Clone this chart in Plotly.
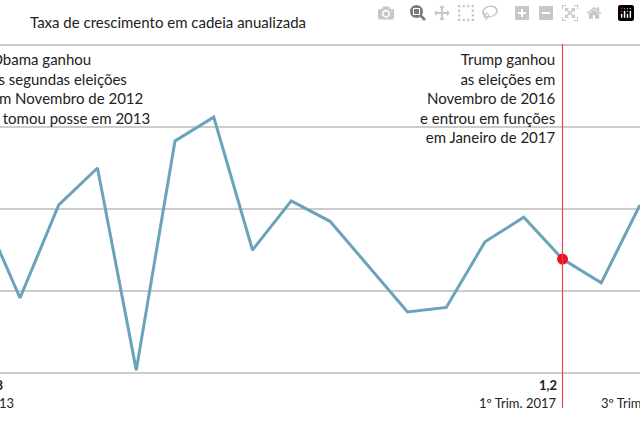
import plotly.graph_objects as go

# quarter index and growth (annualised, chart units)
quarters = list(range(-1, 17))
growth = [4.0, 1.83, 4.1, 5.0, 0.07, 5.66, 6.24, 3.0, 4.2, 3.7, 2.6, 1.49, 1.6, 3.2, 3.8, 2.78, 2.2, 4.1]
grid_vals = [0, 2, 4, 6, 8]
event_q = 14

W, H = 640, 426
FONT = 'Lato'

fig = go.Figure()
fig.add_trace(go.Scatter(x=quarters, y=growth, mode='lines',
                         line=dict(color='#6aa3ba', width=3), hoverinfo='skip'))
fig.add_shape(type='line', x0=event_q, x1=event_q, yref='paper', y0=(426 - 408) / 426, y1=(426 - 44) / 426,
              line=dict(color='#e8474c', width=1.2))
fig.add_trace(go.Scatter(x=[event_q], y=[growth[event_q + 1]], mode='markers',
                         marker=dict(color='#e8141b', size=11), hoverinfo='skip'))


def ann(px, py, text, anchor, size=15, bold=False):
    fig.add_annotation(x=px / W, y=1 - py / H, xref='paper', yref='paper', text=f'<b>{text}</b>' if bold else text,
                       xanchor=anchor, yanchor='middle', showarrow=False, align=anchor,
                       font=dict(family=FONT, size=size, color='#222'))


ann(308, 22, 'Taxa de crescimento em cadeia anualizada', 'right')
ann(-11, 88, 'Obama ganhou<br>as segundas eleições<br>em Novembro de 2012<br>e tomou posse em 2013', 'left')
ann(558, 98, 'Trump ganhou<br>as eleições em<br>Novembro de 2016<br>e entrou em funções<br>em Janeiro de 2017', 'right')
ann(559, 385, '1,2', 'right', 13, True)
ann(559, 403, '1º Trim. 2017', 'right', 13)
ann(599, 403, '3º Trim. 2017', 'left', 13)
ann(6, 385, '1,8', 'right', 13, True)
ann(16, 403, '1º Trim. 2013', 'right', 13)

fig.update_layout(
    width=W, height=H, margin=dict(l=0, r=0, t=0, b=0),
    paper_bgcolor='white', plot_bgcolor='white', showlegend=False,
    xaxis=dict(range=[-20 / 38.75, 16], showgrid=False, zeroline=False, showticklabels=False),
    yaxis=dict(range=[-53 / 41, 373 / 41], tickvals=grid_vals, showticklabels=False,
               gridcolor='#cccccc', gridwidth=1.5, zeroline=False),
)
fig.write_html('out.html')

# drop the browser's default body margin so the chart sits flush
with open('out.html') as f:
    page = f.read()
page = page.replace('<body>', '<body style="margin:0;overflow:hidden">', 1)
with open('out.html', 'w') as f:
    f.write(page)
